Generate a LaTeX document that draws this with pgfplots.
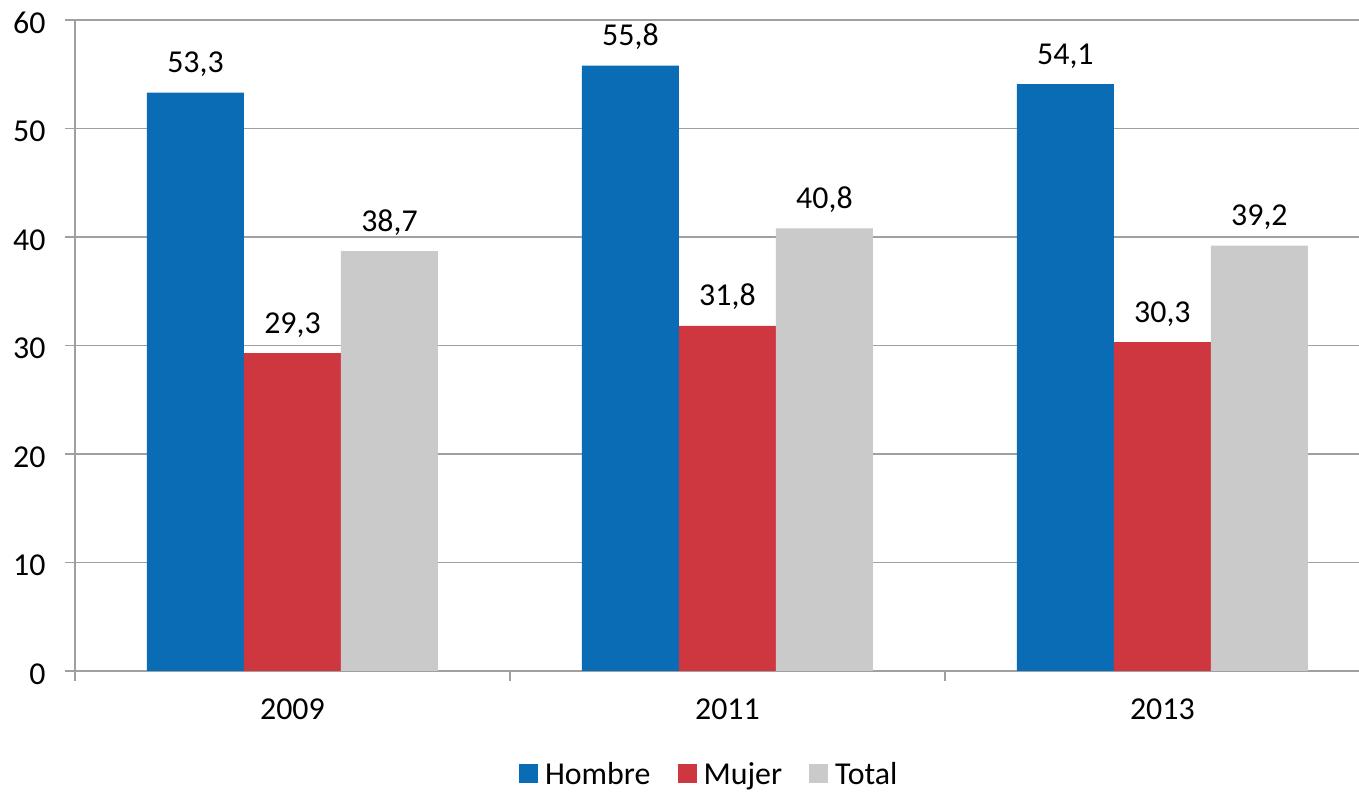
\documentclass[border=0pt]{standalone}
\usepackage{pgfplots}
\pgfplotsset{compat=1.18}
\usepackage{fontspec}
\setmainfont{Carlito}
\definecolor{cblue}{HTML}{0A6CB5}
\definecolor{cred}{HTML}{CF3740}
\definecolor{cgray}{HTML}{CACACA}
\definecolor{gridc}{HTML}{A0A0A0}
\newcommand{\bigf}{\fontsize{32}{38}\selectfont}
\begin{document}
\begin{tikzpicture}
\path[use as bounding box, clip] (0,0) rectangle (1359bp,794bp);
\begin{axis}[
  at={(75bp,123bp)}, anchor=south west,
  scale only axis, width=1284bp, height=651bp,
  xmin=-0.5, xmax=2.452, ymin=0, ymax=60,
  ybar=0pt, bar width=97bp,
  axis lines=left, axis line style={-, draw=gridc, line width=1.5bp},
  xtick={-0.5,0.5,1.5}, xticklabels={},
  extra x ticks={0,1,2}, extra x tick labels={2009,2011,2013},
  extra x tick style={major tick length=0pt, grid=none,
    xticklabel style={yshift=-24bp}},
  ytick={0,10,...,60},
  yticklabel style={xshift=-16bp, yshift=-3bp},
  ymajorgrids, grid style={draw=gridc, line width=1.5bp},
  tick align=outside, major tick length=10bp,
  tick style={draw=gridc, line width=1.5bp},
  ticklabel style={font=\bigf, text=black},
  /pgf/number format/assume math mode=true,
  nodes near coords={\pgfmathprintnumber[assume math mode=true,use comma,fixed,fixed zerofill,precision=1]{\pgfplotspointmeta}},
  every node near coord/.append style={font=\bigf, text=black, anchor=base, yshift=20bp},
  legend style={at={(0.494,-0.158)}, anchor=center, draw=none, fill=none,
    legend columns=-1, font=\bigf,
    /tikz/every odd column/.append style={column sep=5bp},
    /tikz/every even column/.append style={column sep=25bp}},
  legend image code/.code={\fill[#1] (0bp,-9.5bp) rectangle (19bp,9.5bp);},
]
\addplot[fill=cblue, draw=none] coordinates {(0,53.3) (1,55.8) (2,54.1)};
\addplot[fill=cred, draw=none] coordinates {(0,29.3) (1,31.8) (2,30.3)};
\addplot[fill=cgray, draw=none] coordinates {(0,38.7) (1,40.8) (2,39.2)};
\legend{Hombre,Mujer,Total}
\end{axis}
\end{tikzpicture}
\end{document}
